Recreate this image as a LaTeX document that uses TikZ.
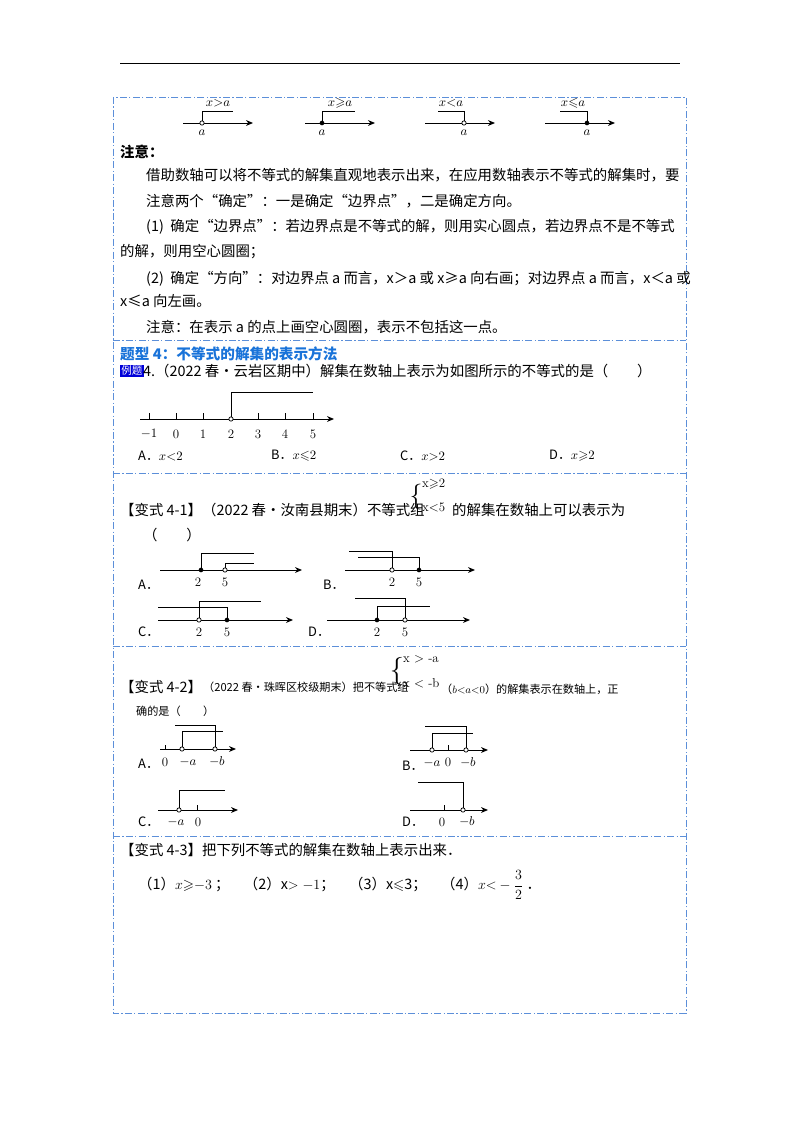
\documentclass[tikz,border=0pt]{standalone}
\usepackage{amsmath,amssymb}
\usepackage{fontspec}
\usetikzlibrary{arrows.meta}
\newfontfamily\cjk{Noto Sans CJK SC}
\definecolor{boxblue}{rgb}{0.36,0.56,0.85}
\definecolor{headblue}{rgb}{0.1,0.45,0.85}

\tikzset{
  ax/.style={line width=0.8pt,-{Stealth[length=6pt,width=5pt]}},
  hollow/.style={circle,draw,fill=white,inner sep=1.3pt,line width=0.6pt},
  solid/.style={circle,fill,inner sep=1.4pt},
  txt/.style={anchor=west,inner sep=0,font=\cjk\fontsize{12.3}{14}\selectfont},
  small/.style={anchor=west,inner sep=0,font=\cjk\fontsize{9.5}{11}\selectfont},
  lab/.style={inner sep=0,font=\fontsize{11}{12}\selectfont},
  opt/.style={anchor=west,inner sep=0,font=\cjk\fontsize{11}{12}\selectfont},
  frame/.style={boxblue,line width=0.7pt,dash pattern=on 6pt off 2pt on 1pt off 2pt}
}

\begin{document}
\begin{tikzpicture}[x=0.03cm,y=-0.03cm]
    \useasboundingbox (0,0) rectangle (800,1132);
    \draw[line width=0.6pt] (120,63) -- (680,63);
    % frame
    \draw[frame] (113,97) rectangle (686,1013);
    \foreach \y in {340,473,646,836}{
      \draw[frame] (113,\y) -- (686,\y);
    }

    % top row
    \draw[ax] (183,123) -- (253,123);
    \draw (202,123) |- (233,111);
    \node[hollow] (p1) at (202,123) {};
    \node[lab] at (218,103) {$x{>}a$};
    \node[lab] at (202,133) {$a$};
    \draw[ax] (305,123) -- (375,123);
    \draw (322,123) |- (355,111);
    \node[solid] (p2) at (322,123) {};
    \node[lab] at (340,103) {$x{\geqslant}a$};
    \node[lab] at (322,133) {$a$};
    \draw[ax] (425,123) -- (495,123);
    \draw (464,123) |- (438,111);
    \node[hollow] (p3) at (464,123) {};
    \node[lab] at (451,103) {$x{<}a$};
    \node[lab] at (464,133) {$a$};
    \draw[ax] (545,123) -- (615,123);
    \draw (587,123) |- (560,111);
    \node[solid] (p4) at (587,123) {};
    \node[lab] at (573,103) {$x{\leqslant}a$};
    \node[lab] at (587,133) {$a$};

    % notes
    \node[txt,font=\cjk\bfseries\fontsize{12.3}{14}\selectfont] at (120,152) {注意：};
    \node[txt] at (146,175) {借助数轴可以将不等式的解集直观地表示出来，在应用数轴表示不等式的解集时，要};
    \node[txt] at (146,201) {注意两个“确定”：一是确定“边界点”，二是确定方向。};
    \node[txt] at (146,227) {(1)\ \ 确定“边界点”：若边界点是不等式的解，则用实心圆点，若边界点不是不等式};
    \node[txt] at (120,252) {的解，则用空心圆圈；};
    \node[txt] at (146,279) {(2)\ \ 确定“方向”：对边界点 a 而言，x＞a 或 x≥a 向右画；对边界点 a 而言，x＜a 或};
    \node[txt] at (120,301) {x≤a 向左画。};
    \node[txt] at (146,327) {注意：在表示 a 的点上画空心圆圈，表示不包括这一点。};

    % example 4
    \node[txt,headblue,font=\cjk\bfseries\fontsize{12.5}{14}\selectfont] at (120,354) {题型 4：不等式的解集的表示方法};
    \node[anchor=west,fill=blue!85!black,text=white,inner sep=1pt,font=\cjk\fontsize{9}{10}\selectfont] (lt) at (120,371) {例题};
    \node[txt] at (143,371) {4.（2022 春•云岩区期中）解集在数轴上表示为如图所示的不等式的是（\qquad）};
    \draw[ax] (140,419) -- (334,419);
    \foreach \x/\t in {149/$-1$,176/0,203/1,231/2,258/3,285/4,313/5}{
      \draw (\x,419) -- (\x,413);
      \node[lab] at (\x,434) {\t};
    }
    \draw (231,419) |- (313,392);
    \node[hollow] (e4) at (231,419) {};
    \node[opt] at (138,456) {A．$x{<}2$};
    \node[opt] at (271,456) {B．$x{\leqslant}2$};
    \node[opt] at (400,456) {C．$x{>}2$};
    \node[opt] at (549,456) {D．$x{\geqslant}2$};

    % variant 4-1
    \node[txt] at (120,510) {【变式 4-1】（2022 春•汝南县期末）不等式组};
    \node[lab,font=\fontsize{22}{22}\selectfont] at (416,497) {\{};
    \node[lab,anchor=west] at (422,484) {x$\geqslant$2};
    \node[lab,anchor=west] at (422,507) {x$<$5};
    \node[txt] at (452,510) {的解集在数轴上可以表示为};
    \node[txt] at (143,535) {（\qquad）};
    % A
    \draw[ax] (160,570) -- (302,570);
    \draw (201,570) |- (254,553);
    \draw (225,570) |- (254,563);
    \node[solid] (a2) at (201,570) {};
    \node[hollow] (a5) at (225,570) {};
    \node[lab] at (198,582) {2};
    \node[lab] at (225,582) {5};
    \node[opt] at (138,585) {A．};
    % B
    \draw[ax] (345,570) -- (475,570);
    \draw (392,570) |- (349,551);
    \draw (419,570) |- (358,557);
    \node[hollow] (b2) at (392,570) {};
    \node[solid] (b5) at (419,570) {};
    \node[lab] at (392,582) {2};
    \node[lab] at (419,582) {5};
    \node[opt] at (323,585) {B．};
    % C
    \draw[ax] (158,620) -- (293,620);
    \draw (227,620) |- (158,607);
    \draw (199,620) |- (261,601);
    \node[hollow] (c2) at (199,620) {};
    \node[solid] (c5) at (227,620) {};
    \node[lab] at (199,632) {2};
    \node[lab] at (227,632) {5};
    \node[opt] at (138,632) {C．};
    % D
    \draw[ax] (327,620) -- (470,620);
    \draw (377,620) |- (430,606);
    \draw (405,620) |- (355,598);
    \node[solid] (d2) at (377,620) {};
    \node[hollow] (d5) at (405,620) {};
    \node[lab] at (377,632) {2};
    \node[lab] at (405,632) {5};
    \node[opt] at (308,632) {D．};

    % variant 4-2
    \node[txt] at (120,687) {【变式 4-2】};
    \node[small] at (203,687) {（2022 春•珠晖区校级期末）把不等式组};
    \node[lab,font=\fontsize{24}{24}\selectfont] at (397,671) {\{};
    \node[lab,anchor=west] at (403,659) {x $>$ -a};
    \node[lab,anchor=west] at (403,683) {x $<$ -b};
    \node[small] at (441,689) {（$b{<}a{<}0$）的解集表示在数轴上，正};
    \node[small] at (136,711) {确的是（\qquad）};
    % A
    \draw[ax] (160,749) -- (236,749);
    \draw (165,749) -- (165,745);
    \draw (182,749) |- (223,731);
    \draw (215,749) |- (175,725);
    \node[hollow] (qa1) at (182,749) {};
    \node[hollow] (qa2) at (215,749) {};
    \node[lab] at (165,762) {0};
    \node[lab] at (188,762) {$-a$};
    \node[lab] at (217,762) {$-b$};
    \node[opt] at (138,764) {A．};
    % B
    \draw[ax] (410,750) -- (488,750);
    \draw (448,750) -- (448,745);
    \draw (432,750) |- (473,733);
    \draw (466,750) |- (425,726);
    \node[hollow] (qb1) at (432,750) {};
    \node[hollow] (qb2) at (466,750) {};
    \node[lab] at (432,763) {$-a$};
    \node[lab] at (448,762) {0};
    \node[lab] at (468,763) {$-b$};
    \node[opt] at (402,766) {B．};
    % C
    \draw[ax] (158,810) -- (238,810);
    \draw (197,810) -- (197,805);
    \draw (179,810) |- (225,790);
    \node[hollow] (qc1) at (179,810) {};
    \node[lab] at (176,822) {$-a$};
    \node[lab] at (198,822) {0};
    \node[opt] at (138,822) {C．};
    % D
    \draw[ax] (410,810) -- (488,810);
    \draw (444,810) -- (444,805);
    \draw (463,810) |- (418,782);
    \node[hollow] (qd1) at (463,810) {};
    \node[lab] at (442,822) {0};
    \node[lab] at (467,822) {$-b$};
    \node[opt] at (402,822) {D．};

    % variant 4-3
    \node[txt] at (120,850) {【变式 4-3】把下列不等式的解集在数轴上表示出来．};
    \node[txt] at (138,885) {（1）$x{\geqslant}{-3}$ ；\quad （2）x$>-1$；\quad （3）x$\leqslant$3；\quad （4）$x{<}-\dfrac{3}{2}$ ．};
  \end{tikzpicture}
\end{document}
